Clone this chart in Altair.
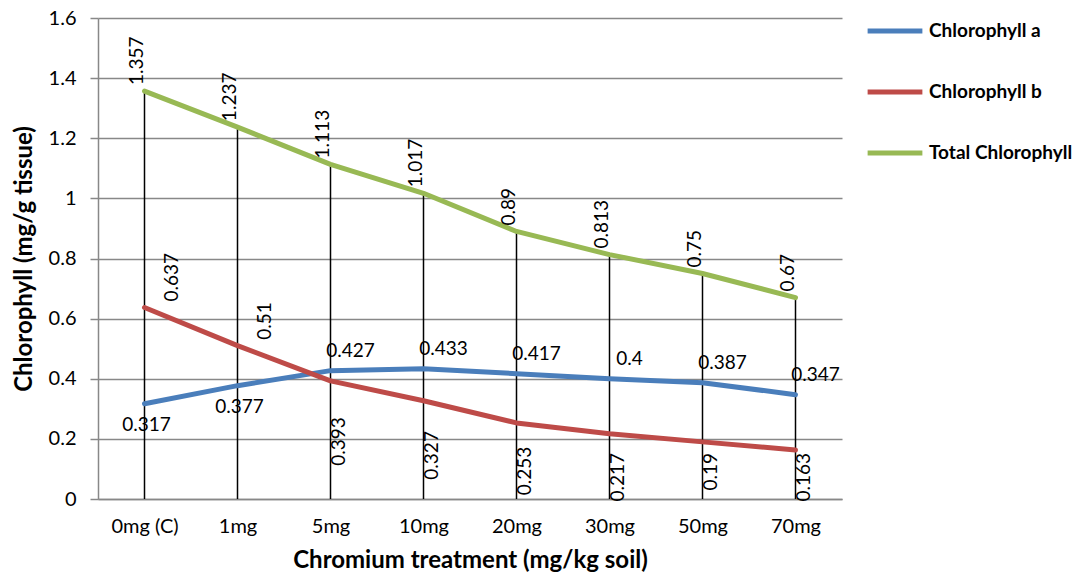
import altair as alt
import pandas as pd

categories = ["0mg (C)", "1mg", "5mg", "10mg", "20mg", "30mg", "50mg", "70mg"]
chl_a = [0.317, 0.377, 0.427, 0.433, 0.417, 0.4, 0.387, 0.347]
chl_b = [0.637, 0.51, 0.393, 0.327, 0.253, 0.217, 0.19, 0.163]
total = [1.357, 1.237, 1.113, 1.017, 0.89, 0.813, 0.75, 0.67]
series_names = ["Chlorophyll a", "Chlorophyll b", "Total Chlorophyll"]
series_colors = ["#4A7EBB", "#BE4B48", "#98B954"]

rows = []
for name, vals in zip(series_names, [chl_a, chl_b, total]):
    for i, (c, v) in enumerate(zip(categories, vals)):
        rows.append({"category": c, "series": name, "value": v, "idx": i, "label": f"{v:g}"})
df = pd.DataFrame(rows)

FONT = "Lato"
GRID = "#888888"

x_enc = alt.X(
    "category:N",
    sort=categories,
    scale=alt.Scale(type="point", padding=0.5),
    axis=alt.Axis(
        title="Chromium treatment (mg/kg soil)",
        labelAngle=0,
        ticks=False,
        labelPadding=17,
        titlePadding=12,
        domainColor=GRID,
        domainWidth=1.5,
        grid=False,
        labelFont=FONT,
        labelFontSize=20,
        labelColor="black",
        titleFont=FONT,
        titleFontSize=24,
        titleFontWeight="bold",
        titleColor="black",
    ),
)
y_scale = alt.Scale(domain=[0, 1.6], nice=False)
y_enc = alt.Y(
    "value:Q",
    scale=y_scale,
    axis=alt.Axis(
        title="Chlorophyll (mg/g tissue)",
        values=[0, 0.2, 0.4, 0.6, 0.8, 1.0, 1.2, 1.4, 1.6],
        format="~g",
        tickSize=8,
        tickColor=GRID,
        tickWidth=1.5,
        domainColor=GRID,
        domainWidth=1.5,
        gridColor=GRID,
        gridWidth=1.5,
        labelPadding=14,
        titlePadding=12,
        labelFont=FONT,
        labelFontSize=20,
        labelColor="black",
        titleFont=FONT,
        titleFontSize=24,
        titleFontWeight="bold",
        titleColor="black",
    ),
)

base = alt.Chart(df)

drops = base.transform_filter(alt.datum.series == "Total Chlorophyll").mark_rule(
    color="black", strokeWidth=1.5
).encode(x=x_enc, y=y_enc, y2=alt.datum(0))

lines = base.mark_line(strokeWidth=5, strokeCap="round", strokeJoin="round").encode(
    x=x_enc,
    y=y_enc,
    order="idx:Q",
    color=alt.Color(
        "series:N",
        scale=alt.Scale(domain=series_names, range=series_colors),
        legend=alt.Legend(
            title=None,
            orient="none",
            legendX=767,
            legendY=-17,
            symbolType="stroke",
            symbolStrokeWidth=5,
            symbolSize=3000,
            labelFont=FONT,
            labelFontSize=19,
            labelFontWeight="bold",
            labelColor="black",
            labelOffset=4,
            rowPadding=21,
            padding=0,
        ),
    ),
)

txt = dict(font=FONT, fontSize=19, color="black")

a_below = base.transform_filter(
    (alt.datum.series == "Chlorophyll a") & (alt.datum.idx < 2)
).mark_text(align="center", baseline="middle", dx=2, dy=21, **txt).encode(
    x=x_enc, y=y_enc, text="label:N"
)
a_above = base.transform_filter(
    (alt.datum.series == "Chlorophyll a") & (alt.datum.idx >= 2)
).mark_text(align="center", baseline="middle", dx=20, dy=-20, **txt).encode(
    x=x_enc, y=y_enc, text="label:N"
)

b_high = base.transform_filter(
    (alt.datum.series == "Chlorophyll b") & (alt.datum.idx < 2)
).mark_text(angle=270, align="left", baseline="middle", dx=6, dy=27, **txt).encode(
    x=x_enc, y=y_enc, text="label:N"
)
b_low = base.transform_filter(
    (alt.datum.series == "Chlorophyll b") & (alt.datum.idx >= 2)
).transform_calculate(
    labpos="max(0.7 * datum.value - 0.003, 0.153)"
).mark_text(angle=270, align="right", baseline="middle", dy=8, **txt).encode(
    x=x_enc, y=alt.Y("labpos:Q", scale=y_scale), text="label:N"
)

t_labels = base.transform_filter(
    alt.datum.series == "Total Chlorophyll"
).mark_text(angle=270, align="left", baseline="middle", dx=6, dy=-8, **txt).encode(
    x=x_enc, y=y_enc, text="label:N"
)

chart = (
    alt.layer(drops, lines, a_below, a_above, b_high, b_low, t_labels)
    .properties(
        width=744,
        height=481,
        autosize=alt.AutoSizeParams(type="none"),
        padding={"left": 98, "top": 18, "right": 249, "bottom": 82},
        background="white",
    )
    .configure_view(strokeWidth=0)
)

chart.save("out.html", embed_options={"renderer": "svg", "actions": False})
